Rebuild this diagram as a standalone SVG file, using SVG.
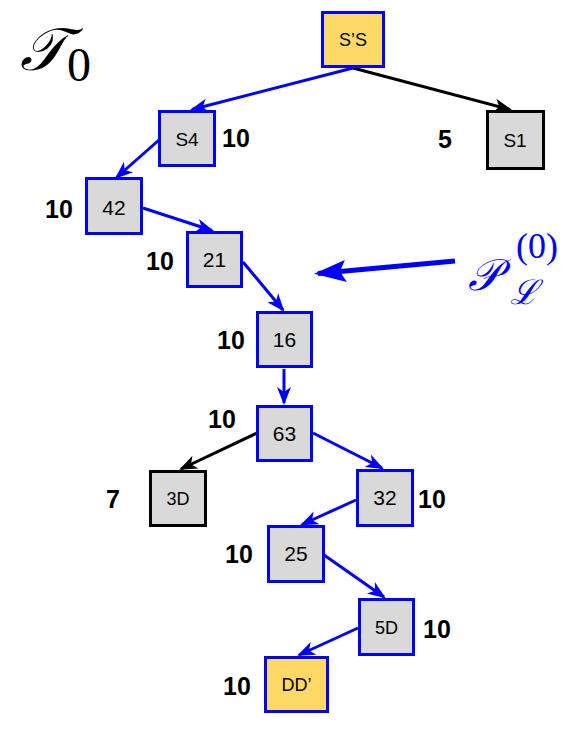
<svg xmlns="http://www.w3.org/2000/svg" width="581" height="731" viewBox="0 0 581 731">
<style>
.nb{fill:#D9D9D9;stroke:#0000FF;stroke-width:3}
.nk{fill:#D9D9D9;stroke:#000;stroke-width:3}
.ny{fill:#FFD966;stroke:#0000FF;stroke-width:3}
.t{font-family:"Liberation Sans",Arial,sans-serif;font-size:18px;text-anchor:middle;fill:#000}
.tn{font-size:21px}
.w{font-family:"Liberation Sans",Arial,sans-serif;font-size:25px;font-weight:bold;text-anchor:middle;fill:#000}
.eb{stroke:#0000FF;stroke-width:3;fill:none}
.ek{stroke:#000;stroke-width:3;fill:none}
.m{font-family:"DejaVu Serif","Liberation Serif",serif;fill:#0000FF}
</style>
<defs>
<marker id="ab" markerUnits="userSpaceOnUse" viewBox="-20 -10 30 20" refX="0" refY="0" markerWidth="30" markerHeight="20" orient="auto" overflow="visible">
<path d="M2,0 L-16,-7 L-11,0 L-16,7 Z" fill="#0000FF"/>
</marker>
<marker id="ak" markerUnits="userSpaceOnUse" viewBox="-20 -10 30 20" refX="0" refY="0" markerWidth="30" markerHeight="20" orient="auto" overflow="visible">
<path d="M2,0 L-16,-7 L-11,0 L-16,7 Z" fill="#000"/>
</marker>
<marker id="big" markerUnits="userSpaceOnUse" viewBox="-40 -15 50 30" refX="0" refY="0" markerWidth="50" markerHeight="30" orient="auto" overflow="visible">
<path d="M4,0 L-28,-11 L-22,0 L-28,11 Z" fill="#0000FF"/>
</marker>
</defs>

<g id="title">
<text class="m" x="20" y="70" font-size="60" font-style="italic" style="fill:#000">𝒯</text>
<text class="m" x="67" y="81" font-size="48" style="fill:#000;font-family:'Liberation Serif',serif">0</text>
</g>

<g id="connectors">
<line class="eb" x1="353" y1="68" x2="192" y2="109.5" marker-end="url(#ab)"/>
<line class="ek" x1="353" y1="68" x2="510" y2="109.5" marker-end="url(#ak)"/>
<line class="eb" x1="159" y1="140" x2="116.5" y2="177.5" marker-end="url(#ab)"/>
<line class="eb" x1="143" y1="208" x2="212" y2="230.5" marker-end="url(#ab)"/>
<line class="eb" x1="243" y1="262" x2="283" y2="310" marker-end="url(#ab)"/>
<line class="eb" x1="284" y1="369" x2="284" y2="403" marker-end="url(#ab)"/>
<line class="ek" x1="257" y1="433" x2="181" y2="469" marker-end="url(#ak)"/>
<line class="eb" x1="313" y1="433" x2="382" y2="468" marker-end="url(#ab)"/>
<line class="eb" x1="356" y1="500" x2="302" y2="524.5" marker-end="url(#ab)"/>
<line class="eb" x1="324" y1="555" x2="384" y2="597" marker-end="url(#ab)"/>
<line class="eb" x1="358" y1="628" x2="299" y2="655" marker-end="url(#ab)"/>
<line stroke="#0000FF" stroke-width="5" x1="455" y1="261" x2="318" y2="273.5" marker-end="url(#big)"/>
</g>

<g id="n-SS"><rect class="ny" x="322.5" y="12.5" width="61" height="54"/><text class="t" x="353" y="46">S’S</text></g>
<g id="n-S4"><rect class="nb" x="159.5" y="111.5" width="55" height="54"/><text class="t" x="187" y="146" style="font-size:19px">S4</text></g>
<g id="n-S1"><rect class="nk" x="487.5" y="111.5" width="56" height="57"/><text class="t" x="515" y="147" style="font-size:19px">S1</text></g>
<g id="n-42"><rect class="nb" x="86.5" y="178.5" width="55" height="55"/><text class="t tn" x="114" y="215">42</text></g>
<g id="n-21"><rect class="nb" x="187.5" y="232.5" width="54" height="54"/><text class="t tn" x="214.5" y="267">21</text></g>
<g id="n-16"><rect class="nb" x="257.5" y="312.5" width="54" height="54"/><text class="t tn" x="284.5" y="347">16</text></g>
<g id="n-63"><rect class="nb" x="257.5" y="406.5" width="54" height="54"/><text class="t tn" x="284.5" y="441">63</text></g>
<g id="n-3D"><rect class="nk" x="150.5" y="471.5" width="55" height="54"/><text class="t" x="178" y="505">3D</text></g>
<g id="n-32"><rect class="nb" x="357.5" y="470.5" width="55" height="55"/><text class="t tn" x="385" y="505">32</text></g>
<g id="n-25"><rect class="nb" x="268.5" y="526.5" width="55" height="55"/><text class="t tn" x="296" y="561">25</text></g>
<g id="n-5D"><rect class="nb" x="359.5" y="599.5" width="54" height="55"/><text class="t" x="386.5" y="634">5D</text></g>
<g id="n-DD"><rect class="ny" x="265.5" y="657.5" width="62" height="54"/><text class="t" x="296.5" y="691">DD’</text></g>

<g id="weights">
<text class="w" x="236" y="147">10</text>
<text class="w" x="445" y="148">5</text>
<text class="w" x="59" y="218">10</text>
<text class="w" x="160" y="270">10</text>
<text class="w" x="231" y="349">10</text>
<text class="w" x="222" y="428">10</text>
<text class="w" x="113" y="508">7</text>
<text class="w" x="432" y="508">10</text>
<text class="w" x="239" y="563">10</text>
<text class="w" x="437" y="638">10</text>
<text class="w" x="237" y="695">10</text>
</g>

<g id="path-label">
<text class="m" x="468" y="290" font-size="44" font-style="italic">𝒫</text>
<text class="m" x="516" y="258" font-size="36" style="font-family:'Liberation Serif',serif">(0)</text>
<text class="m" x="510" y="304" font-size="34" font-style="italic">ℒ</text>
</g>
</svg>
